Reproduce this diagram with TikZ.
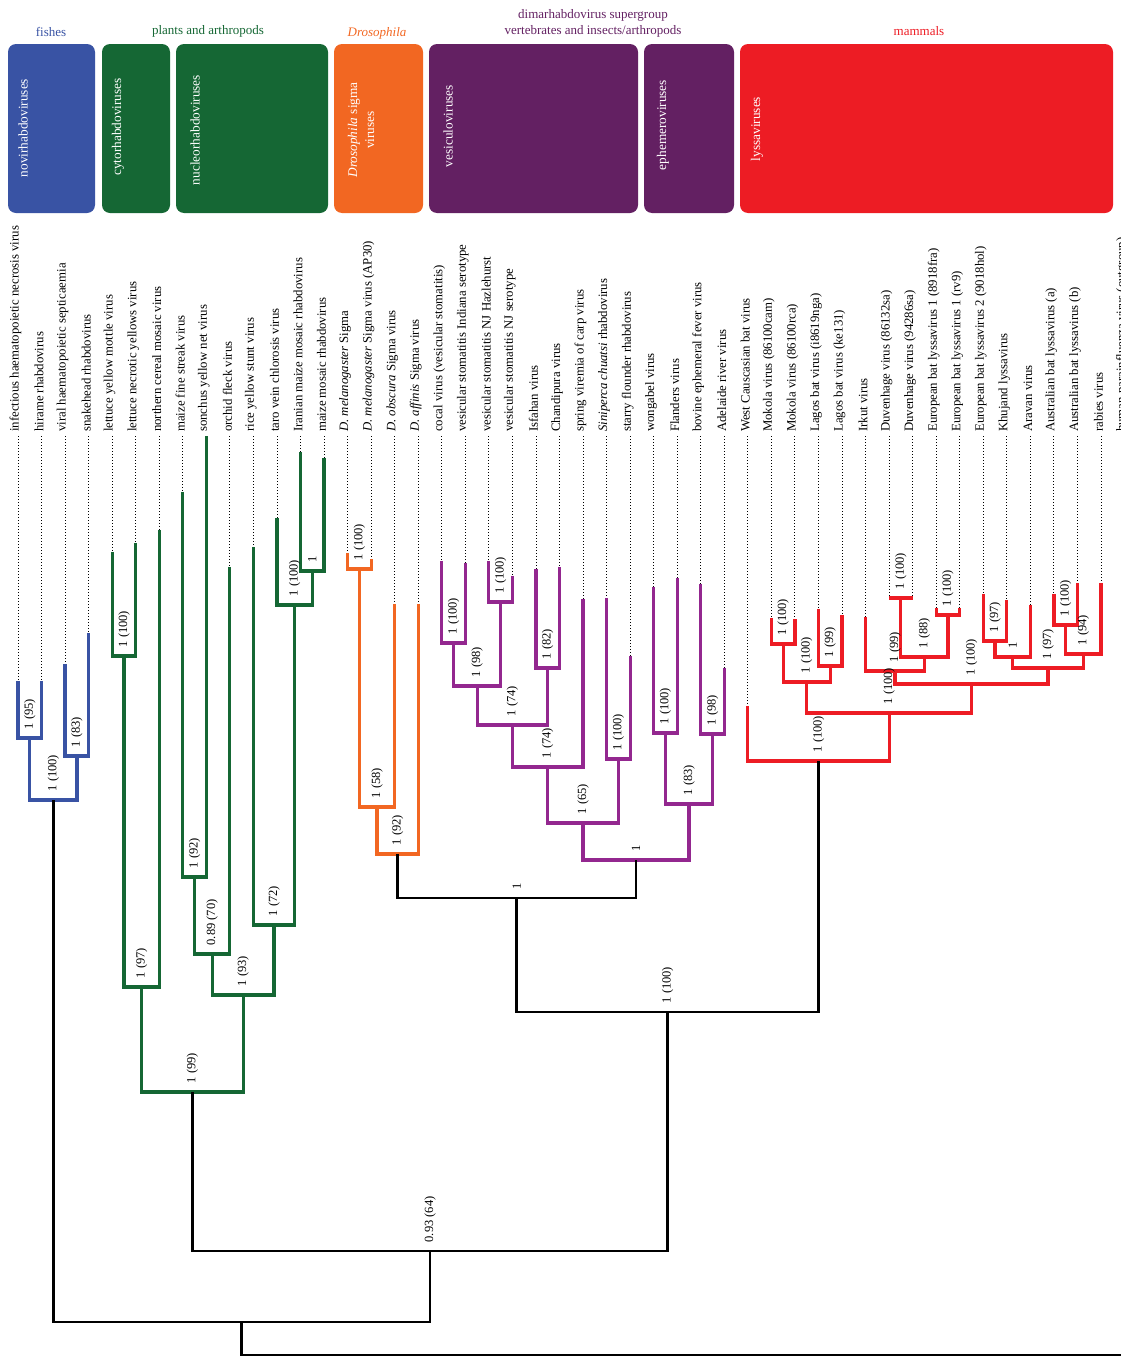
\documentclass[tikz,border=0pt]{standalone}
\usepackage{fontspec}
\setmainfont{Liberation Serif}

\definecolor{fishblue}{HTML}{3953A4}
\definecolor{plantgreen}{HTML}{156734}
\definecolor{droorange}{HTML}{F26722}
\definecolor{dimbox}{HTML}{632062}
\definecolor{dimline}{HTML}{93278F}
\definecolor{mamred}{HTML}{ED1C24}

\tikzstyle{cladebox} = [rectangle, rounded corners=8pt, draw=none, inner sep=0pt]
\tikzstyle{boxtitle} = [text=white, rotate=90, align=center,
    font=\fontsize{13.3}{17}\selectfont]
\tikzstyle{grouptitle} = [inner sep=0pt, align=center, font=\fontsize{13}{16}\selectfont]
\tikzstyle{leaflabel} = [rotate=90, anchor=west, inner sep=4pt,
    font=\fontsize{12.8}{15}\selectfont]
\tikzstyle{leafdots} = [dash pattern=on 1pt off 2pt, line width=0.9pt]
\tikzstyle{support} = [rotate=90, anchor=west, inner sep=1.5pt,
    font=\fontsize{12.5}{15}\selectfont]
\tikzstyle{branch} = [line width=3.2pt]
\tikzstyle{stem} = [line width=2.8pt, black]

\begin{document}
\begin{tikzpicture}[x=1pt, y=-1pt]
\useasboundingbox (0,0) rectangle (1121,1357);

% group boxes
\node[cladebox, fill=fishblue, minimum width=87pt, minimum height=169pt] (fishbox) at (51.5,128.5) {};
\node[cladebox, fill=plantgreen, minimum width=68pt, minimum height=169pt] (cytobox) at (136,128.5) {};
\node[cladebox, fill=plantgreen, minimum width=152pt, minimum height=169pt] (nucleobox) at (252,128.5) {};
\node[cladebox, fill=droorange, minimum width=89pt, minimum height=169pt] (sigmabox) at (378.5,128.5) {};
\node[cladebox, fill=dimbox, minimum width=209pt, minimum height=169pt] (vesicbox) at (533.5,128.5) {};
\node[cladebox, fill=dimbox, minimum width=90pt, minimum height=169pt] (ephembox) at (689,128.5) {};
\node[cladebox, fill=mamred, minimum width=373pt, minimum height=169pt] (lyssabox) at (926.5,128.5) {};

\node[boxtitle] (novir) at (23,128) {novirhabdoviruses};
\node[boxtitle] (cyto) at (118,127) {cytorhabdoviruses};
\node[boxtitle] (nucleo) at (195,130) {nucleorhabdoviruses};
\node[boxtitle] (sigma) at (361,130) {\textit{Drosophila} sigma\\viruses};
\node[boxtitle] (vesic) at (448,126) {vesiculoviruses};
\node[boxtitle] (ephem) at (663,125) {ephemeroviruses};
\node[boxtitle] (lyssa) at (757,129) {lyssaviruses};

\node[grouptitle, text=fishblue] (fishes) at (51,32) {fishes};
\node[grouptitle, text=plantgreen] (plants) at (208,31) {plants and arthropods};
\node[grouptitle, text=droorange] (droso) at (377,33) {\textit{Drosophila}};
\node[grouptitle, text=dimbox] (dimarh) at (593,23) {dimarhabdovirus supergroup\\vertebrates and insects/arthropods};
\node[grouptitle, text=mamred] (mammals) at (919,31) {mammals};

% tips
\foreach \n/\top/\txt in {
 1/681/{infectious haematopoietic necrosis virus},
 2/681/{hirame rhabdovirus},
 3/664/{viral haematopoietic septicaemia},
 4/633/{snakehead rhabdovirus},
 5/552/{lettuce yellow mottle virus},
 6/543/{lettuce necrotic yellows virus},
 7/530/{northern cereal mosaic virus},
 8/492/{maize fine streak virus},
 9/436/{sonchus yellow net virus},
 10/567/{orchid fleck virus},
 11/547/{rice yellow stunt virus},
 12/518/{taro vein chlorosis virus},
 13/452/{Iranian maize mosaic rhabdovirus},
 14/458/{maize mosaic rhabdovirus},
 15/553/{\textit{D. melanogaster} Sigma},
 16/559/{\textit{D. melanogaster} Sigma virus (AP30)},
 17/604/{\textit{D. obscura} Sigma virus},
 18/604/{\textit{D. affinis} Sigma virus},
 19/561/{cocal virus (vesicular stomatitis)},
 20/563/{vesicular stomatitis Indiana serotype},
 21/561/{vesicular stomatitis NJ Hazlehurst},
 22/576/{vesicular stomatitis NJ serotype},
 23/569/{Isfahan virus},
 24/567/{Chandipura virus},
 25/599/{spring viremia of carp virus},
 26/598/{\textit{Siniperca chuatsi} rhabdovirus},
 27/656/{starry flounder rhabdovirus},
 28/587/{wongabel virus},
 29/578/{Flanders virus},
 30/584/{bovine ephemeral fever virus},
 31/668/{Adelaide river virus},
 32/706/{West Causcasian bat virus},
 33/618/{Mokola virus (86100cam)},
 34/619/{Mokola virus (86100rca)},
 35/609/{Lagos bat virus (i8619nga)},
 36/615/{Lagos bat virus (ke131)},
 37/617/{Irkut virus},
 38/598/{Duvenhage virus (86132sa)},
 39/598/{Duvenhage virus (94286sa)},
 40/608/{European bat lyssavirus 1 (8918fra)},
 41/608/{European bat lyssavirus 1 (rv9)},
 42/594/{European bat lyssavirus 2 (9018hol)},
 43/600/{Khujand lyssavirus},
 44/605/{Aravan virus},
 45/594/{Australian bat lyssavirus (a)},
 46/583/{Australian bat lyssavirus (b)},
 47/583/{rabies virus},
 48/1355/{human parainfluenza virus (outgroup)}}{
  \pgfmathsetmacro\x{18+(\n-1)*23.543}
  \node[leaflabel] (t\n) at (\x-2.5,436) {\txt};
  \coordinate (l\n) at (\x,\top);
  \draw[leafdots] (t\n.west -| l\n) -- (l\n);
}

% internal nodes
\coordinate (nA) at (29.8,738);
\coordinate (nB) at (76.9,756);
\coordinate (nF) at (53.3,800);
\coordinate (pC) at (124.0,656);
\coordinate (p97) at (141.6,987);
\coordinate (p92) at (194.6,877);
\coordinate (p70) at (212.2,954);
\coordinate (p1) at (312.3,571);
\coordinate (pN) at (294.6,605);
\coordinate (p72) at (274.0,925);
\coordinate (p93) at (243.1,995);
\coordinate (p99) at (192.4,1092);
\coordinate (s100) at (359.4,569);
\coordinate (s58) at (377.0,807);
\coordinate (s92) at (397.6,854);
\coordinate (v100a) at (453.6,643);
\coordinate (v100b) at (500.6,602);
\coordinate (v98) at (477.1,686);
\coordinate (v82) at (547.7,668);
\coordinate (v74a) at (512.4,725);
\coordinate (v74b) at (547.7,767);
\coordinate (v100c) at (618.4,759);
\coordinate (v65) at (583.0,823);
\coordinate (e100) at (665.4,733);
\coordinate (e98) at (712.5,734);
\coordinate (e83) at (689.0,804);
\coordinate (dim1) at (636.0,860);
\coordinate (s1) at (516.8,898);
\coordinate (m100) at (783.1,644);
\coordinate (g99) at (830.2,666);
\coordinate (c100) at (806.7,682);
\coordinate (u100) at (900.8,598);
\coordinate (b100) at (947.9,615);
\coordinate (u88) at (924.4,657);
\coordinate (i99) at (895.0,671);
\coordinate (k97) at (995.0,641);
\coordinate (k1) at (1012.7,657);
\coordinate (a100) at (1065.6,625);
\coordinate (a94) at (1083.3,654);
\coordinate (k97b) at (1048.0,668);
\coordinate (d100l) at (971.5,684);
\coordinate (lb100) at (889.1,713);
\coordinate (ly100) at (818.5,761);
\coordinate (d100) at (667.6,1012);
\coordinate (n64) at (430.0,1251);
\coordinate (nR) at (241.7,1322);

% fishes
\draw[branch, fishblue] (l1) |- (nA) -| (l2);
\draw[branch, fishblue] (l3) |- (nB) -| (l4);
\draw[branch, fishblue] (nA) |- (nF) -| (nB);

% plants and arthropods
\draw[branch, plantgreen] (l5) |- (pC) -| (l6);
\draw[branch, plantgreen] (pC) |- (p97) -| (l7);
\draw[branch, plantgreen] (l8) |- (p92) -| (l9);
\draw[branch, plantgreen] (p92) |- (p70) -| (l10);
\draw[branch, plantgreen] (l13) |- (p1) -| (l14);
\draw[branch, plantgreen] (l12) |- (pN) -| (p1);
\draw[branch, plantgreen] (l11) |- (p72) -| (pN);
\draw[branch, plantgreen] (p70) |- (p93) -| (p72);
\draw[branch, plantgreen] (p97) |- (p99) -| (p93);

% Drosophila
\draw[branch, droorange] (l15) |- (s100) -| (l16);
\draw[branch, droorange] (s100) |- (s58) -| (l17);
\draw[branch, droorange] (s58) |- (s92) -| (l18);

% dimarhabdoviruses
\draw[branch, dimline] (l19) |- (v100a) -| (l20);
\draw[branch, dimline] (l21) |- (v100b) -| (l22);
\draw[branch, dimline] (v100a) |- (v98) -| (v100b);
\draw[branch, dimline] (l23) |- (v82) -| (l24);
\draw[branch, dimline] (v98) |- (v74a) -| (v82);
\draw[branch, dimline] (v74a) |- (v74b) -| (l25);
\draw[branch, dimline] (l26) |- (v100c) -| (l27);
\draw[branch, dimline] (v74b) |- (v65) -| (v100c);
\draw[branch, dimline] (l28) |- (e100) -| (l29);
\draw[branch, dimline] (l30) |- (e98) -| (l31);
\draw[branch, dimline] (e100) |- (e83) -| (e98);
\draw[branch, dimline] (v65) |- (dim1) -| (e83);

% mammals
\draw[branch, mamred] (l33) |- (m100) -| (l34);
\draw[branch, mamred] (l35) |- (g99) -| (l36);
\draw[branch, mamred] (m100) |- (c100) -| (g99);
\draw[branch, mamred] (l38) |- (u100) -| (l39);
\draw[branch, mamred] (l40) |- (b100) -| (l41);
\draw[branch, mamred] (u100) |- (u88) -| (b100);
\draw[branch, mamred] (l37) |- (i99) -| (u88);
\draw[branch, mamred] (l42) |- (k97) -| (l43);
\draw[branch, mamred] (k97) |- (k1) -| (l44);
\draw[branch, mamred] (l45) |- (a100) -| (l46);
\draw[branch, mamred] (a100) |- (a94) -| (l47);
\draw[branch, mamred] (k1) |- (k97b) -| (a94);
\draw[branch, mamred] (i99) |- (d100l) -| (k97b);
\draw[branch, mamred] (c100) |- (lb100) -| (d100l);
\draw[branch, mamred] (l32) |- (ly100) -| (lb100);

% backbone
\draw[stem] (s92) |- (s1) -| (dim1);
\draw[stem] (s1) |- (d100) -| (ly100);
\draw[stem] (p99) |- (n64) -| (d100);
\draw[stem] (nF) |- (nR) -| (n64);
\draw[stem] (nR) |- (l48);

% support values
\node[support] (sA) at ([yshift=7pt]nA) {1 (95)};
\node[support] (sB) at ([yshift=7pt]nB) {1 (83)};
\node[support] (sF) at ([yshift=7pt]nF) {1 (100)};
\node[support] (spC) at ([yshift=7pt]pC) {1 (100)};
\node[support] (sp97) at ([yshift=7pt]p97) {1 (97)};
\node[support] (sp92) at ([yshift=7pt]p92) {1 (92)};
\node[support] (sp70) at ([yshift=7pt]p70) {0.89 (70)};
\node[support] (sp1) at ([yshift=7pt]p1) {1};
\node[support] (spN) at ([yshift=7pt]pN) {1 (100)};
\node[support] (sp72) at ([yshift=7pt]p72) {1 (72)};
\node[support] (sp93) at ([yshift=7pt]p93) {1 (93)};
\node[support] (sp99) at ([yshift=7pt]p99) {1 (99)};
\node[support] (sn64) at ([yshift=7pt]n64) {0.93 (64)};
\node[support] (ss100) at ([yshift=7pt]s100) {1 (100)};
\node[support] (ss58) at ([yshift=7pt]s58) {1 (58)};
\node[support] (ss92) at ([yshift=7pt]s92) {1 (92)};
\node[support] (ss1) at ([yshift=7pt]s1) {1};
\node[support] (sv100a) at ([yshift=7pt]v100a) {1 (100)};
\node[support] (sv100b) at ([yshift=7pt]v100b) {1 (100)};
\node[support] (sv98) at ([yshift=7pt]v98) {1 (98)};
\node[support] (sv82) at ([yshift=7pt]v82) {1 (82)};
\node[support] (sv74a) at ([yshift=7pt]v74a) {1 (74)};
\node[support] (sv74b) at ([yshift=7pt]v74b) {1 (74)};
\node[support] (sv100c) at ([yshift=7pt]v100c) {1 (100)};
\node[support] (sv65) at ([yshift=7pt]v65) {1 (65)};
\node[support] (se100) at ([yshift=7pt]e100) {1 (100)};
\node[support] (se98) at ([yshift=7pt]e98) {1 (98)};
\node[support] (se83) at ([yshift=7pt]e83) {1 (83)};
\node[support] (sdim1) at ([yshift=7pt]dim1) {1};
\node[support] (sm100) at ([yshift=7pt]m100) {1 (100)};
\node[support] (sg99) at ([yshift=7pt]g99) {1 (99)};
\node[support] (sc100) at ([yshift=7pt]c100) {1 (100)};
\node[support] (su100) at ([yshift=7pt]u100) {1 (100)};
\node[support] (sb100) at ([yshift=7pt]b100) {1 (100)};
\node[support] (su88) at ([yshift=7pt]u88) {1 (88)};
\node[support] (si99) at ([yshift=7pt]i99) {1 (99)};
\node[support] (sk97) at ([yshift=7pt]k97) {1 (97)};
\node[support] (sk1) at ([yshift=7pt]k1) {1};
\node[support] (sa100) at ([yshift=7pt]a100) {1 (100)};
\node[support] (sa94) at ([yshift=7pt]a94) {1 (94)};
\node[support] (sk97b) at ([yshift=7pt]k97b) {1 (97)};
\node[support] (sd100l) at ([yshift=7pt]d100l) {1 (100)};
\node[support] (slb100) at ([yshift=7pt]lb100) {1 (100)};
\node[support] (sly100) at ([yshift=7pt]ly100) {1 (100)};
\node[support] (sd100) at ([yshift=7pt]d100) {1 (100)};
\end{tikzpicture}
\end{document}
